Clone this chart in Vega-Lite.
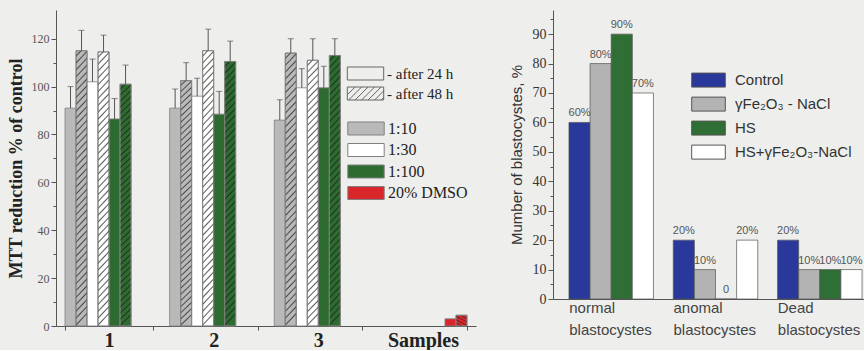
{
  "$schema": "https://vega.github.io/schema/vega-lite/v6.json",
  "background": "#eeeeec",
  "padding": {"left": 7, "top": 10, "right": 0, "bottom": 0},
  "config": {"view": {"stroke": null}, "axis": {"grid": false}},
  "spacing": 33,
  "resolve": {
    "scale": {"fill": "independent", "stroke": "independent", "shape": "independent", "x": "independent", "y": "independent", "xOffset": "independent"},
    "legend": {"fill": "independent", "stroke": "independent", "shape": "independent"}
  },
  "hconcat": [
    {
      "width": 420,
      "height": 316,
      "data": {
        "values": [
          {"sample": "1", "dilution": "1:10", "time": "24 h", "series": "1:10 24 h", "value": 91, "upper": 100},
          {"sample": "1", "dilution": "1:10", "time": "48 h", "series": "1:10 48 h", "value": 115, "upper": 123.5},
          {"sample": "1", "dilution": "1:30", "time": "24 h", "series": "1:30 24 h", "value": 102, "upper": 111.5},
          {"sample": "1", "dilution": "1:30", "time": "48 h", "series": "1:30 48 h", "value": 114.5, "upper": 121.5},
          {"sample": "1", "dilution": "1:100", "time": "24 h", "series": "1:100 24 h", "value": 86.5, "upper": 95},
          {"sample": "1", "dilution": "1:100", "time": "48 h", "series": "1:100 48 h", "value": 101, "upper": 109},
          {"sample": "2", "dilution": "1:10", "time": "24 h", "series": "1:10 24 h", "value": 91, "upper": 99},
          {"sample": "2", "dilution": "1:10", "time": "48 h", "series": "1:10 48 h", "value": 102.5, "upper": 110},
          {"sample": "2", "dilution": "1:30", "time": "24 h", "series": "1:30 24 h", "value": 96, "upper": 103.5},
          {"sample": "2", "dilution": "1:30", "time": "48 h", "series": "1:30 48 h", "value": 115, "upper": 124},
          {"sample": "2", "dilution": "1:100", "time": "24 h", "series": "1:100 24 h", "value": 88.5, "upper": 98},
          {"sample": "2", "dilution": "1:100", "time": "48 h", "series": "1:100 48 h", "value": 110.5, "upper": 119},
          {"sample": "3", "dilution": "1:10", "time": "24 h", "series": "1:10 24 h", "value": 86, "upper": 94.5},
          {"sample": "3", "dilution": "1:10", "time": "48 h", "series": "1:10 48 h", "value": 114, "upper": 120},
          {"sample": "3", "dilution": "1:30", "time": "24 h", "series": "1:30 24 h", "value": 99.5, "upper": 107.5},
          {"sample": "3", "dilution": "1:30", "time": "48 h", "series": "1:30 48 h", "value": 111, "upper": 120},
          {"sample": "3", "dilution": "1:100", "time": "24 h", "series": "1:100 24 h", "value": 99.5, "upper": 108.5},
          {"sample": "3", "dilution": "1:100", "time": "48 h", "series": "1:100 48 h", "value": 113, "upper": 120},
          {"sample": "DMSO", "dilution": "20% DMSO", "time": "24 h", "series": "20% DMSO 24 h", "value": 3, "upper": null},
          {"sample": "DMSO", "dilution": "20% DMSO", "time": "48 h", "series": "20% DMSO 48 h", "value": 4.5, "upper": null}
        ]
      },
      "encoding": {
        "x": {
          "field": "sample", "type": "nominal",
          "scale": {"domain": ["1", "2", "3", "DMSO"], "paddingInner": 0.158, "paddingOuter": 0.086},
          "axis": {
            "title": null, "labelAngle": 0, "tickBand": "extent", "tickSize": 4,
            "labelExpr": "datum.value == 'DMSO' ? 'Samples' : datum.value",
            "labelFont": "Liberation Serif", "labelFontWeight": "bold", "labelFontSize": 20, "labelColor": "#222",
            "labelPadding": 0, "domainColor": "#555", "tickColor": "#555"
          }
        },
        "xOffset": {
          "field": "series", "type": "nominal",
          "scale": {"domain": ["1:10 24 h", "1:10 48 h", "1:30 24 h", "1:30 48 h", "1:100 24 h", "1:100 48 h", "20% DMSO 24 h", "20% DMSO 48 h"], "paddingInner": 0, "paddingOuter": 0}
        }
      },
      "layer": [
        {
          "mark": {"type": "bar", "stroke": "#808080", "strokeWidth": 0.8},
          "encoding": {
            "y": {
              "field": "value", "type": "quantitative",
              "scale": {"domain": [0, 132], "nice": false},
              "axis": {
                "values": [0, 20, 40, 60, 80, 100, 120],
                "title": "MTT reduction % of control",
                "titleFont": "Liberation Serif", "titleFontWeight": "bold", "titleFontSize": 18, "titleColor": "#222", "titlePadding": 6,
                "labelFont": "Liberation Serif", "labelFontSize": 12, "labelColor": "#555", "labelPadding": 2,
                "tickSize": 5, "tickColor": "#555", "domainColor": "#555"
              }
            },
            "fill": {
              "field": "dilution", "type": "nominal",
              "scale": {"domain": ["1:10", "1:30", "1:100", "20% DMSO"], "range": ["#b9b9b9", "#ffffff", "#2e6b30", "#d9262b"]},
              "legend": {
                "title": null, "orient": "none", "direction": "vertical", "legendX": 302, "legendY": 110.5,
                "padding": 0, "symbolType": "M-2.8,-1H2.8V1H-2.8Z", "symbolSize": 169,
                "symbolStrokeColor": "#808080", "symbolStrokeWidth": 1,
                "labelFont": "Liberation Serif", "labelFontSize": 16, "labelColor": "#222", "labelOffset": 14, "rowPadding": 3.5
              }
            }
          }
        },
        {
          "transform": [{"filter": "datum.time === '48 h'"}],
          "mark": {
            "type": "bar", "strokeWidth": 0.8, "stroke": "#808080",
            "fill": {"gradient": "linear", "x1": 0, "y1": 0, "x2": 0.0426, "y2": 1, "stops": [
              {"offset": 0, "color": "rgba(25,25,25,0)"}, {"offset": 0.014, "color": "rgba(25,25,25,0)"}, {"offset": 0.02, "color": "rgba(25,25,25,0.7)"},
              {"offset": 0.025, "color": "rgba(25,25,25,0)"}, {"offset": 0.039, "color": "rgba(25,25,25,0)"}, {"offset": 0.045, "color": "rgba(25,25,25,0.7)"},
              {"offset": 0.05, "color": "rgba(25,25,25,0)"}, {"offset": 0.064, "color": "rgba(25,25,25,0)"}, {"offset": 0.07, "color": "rgba(25,25,25,0.7)"},
              {"offset": 0.075, "color": "rgba(25,25,25,0)"}, {"offset": 0.089, "color": "rgba(25,25,25,0)"}, {"offset": 0.095, "color": "rgba(25,25,25,0.7)"},
              {"offset": 0.1, "color": "rgba(25,25,25,0)"}, {"offset": 0.114, "color": "rgba(25,25,25,0)"}, {"offset": 0.12, "color": "rgba(25,25,25,0.7)"},
              {"offset": 0.125, "color": "rgba(25,25,25,0)"}, {"offset": 0.139, "color": "rgba(25,25,25,0)"}, {"offset": 0.145, "color": "rgba(25,25,25,0.7)"},
              {"offset": 0.15, "color": "rgba(25,25,25,0)"}, {"offset": 0.164, "color": "rgba(25,25,25,0)"}, {"offset": 0.17, "color": "rgba(25,25,25,0.7)"},
              {"offset": 0.175, "color": "rgba(25,25,25,0)"}, {"offset": 0.189, "color": "rgba(25,25,25,0)"}, {"offset": 0.195, "color": "rgba(25,25,25,0.7)"},
              {"offset": 0.2, "color": "rgba(25,25,25,0)"}, {"offset": 0.214, "color": "rgba(25,25,25,0)"}, {"offset": 0.22, "color": "rgba(25,25,25,0.7)"},
              {"offset": 0.225, "color": "rgba(25,25,25,0)"}, {"offset": 0.239, "color": "rgba(25,25,25,0)"}, {"offset": 0.245, "color": "rgba(25,25,25,0.7)"},
              {"offset": 0.25, "color": "rgba(25,25,25,0)"}, {"offset": 0.264, "color": "rgba(25,25,25,0)"}, {"offset": 0.27, "color": "rgba(25,25,25,0.7)"},
              {"offset": 0.275, "color": "rgba(25,25,25,0)"}, {"offset": 0.289, "color": "rgba(25,25,25,0)"}, {"offset": 0.295, "color": "rgba(25,25,25,0.7)"},
              {"offset": 0.3, "color": "rgba(25,25,25,0)"}, {"offset": 0.314, "color": "rgba(25,25,25,0)"}, {"offset": 0.32, "color": "rgba(25,25,25,0.7)"},
              {"offset": 0.325, "color": "rgba(25,25,25,0)"}, {"offset": 0.339, "color": "rgba(25,25,25,0)"}, {"offset": 0.345, "color": "rgba(25,25,25,0.7)"},
              {"offset": 0.35, "color": "rgba(25,25,25,0)"}, {"offset": 0.364, "color": "rgba(25,25,25,0)"}, {"offset": 0.37, "color": "rgba(25,25,25,0.7)"},
              {"offset": 0.375, "color": "rgba(25,25,25,0)"}, {"offset": 0.389, "color": "rgba(25,25,25,0)"}, {"offset": 0.395, "color": "rgba(25,25,25,0.7)"},
              {"offset": 0.4, "color": "rgba(25,25,25,0)"}, {"offset": 0.414, "color": "rgba(25,25,25,0)"}, {"offset": 0.42, "color": "rgba(25,25,25,0.7)"},
              {"offset": 0.425, "color": "rgba(25,25,25,0)"}, {"offset": 0.439, "color": "rgba(25,25,25,0)"}, {"offset": 0.445, "color": "rgba(25,25,25,0.7)"},
              {"offset": 0.45, "color": "rgba(25,25,25,0)"}, {"offset": 0.464, "color": "rgba(25,25,25,0)"}, {"offset": 0.47, "color": "rgba(25,25,25,0.7)"},
              {"offset": 0.475, "color": "rgba(25,25,25,0)"}, {"offset": 0.489, "color": "rgba(25,25,25,0)"}, {"offset": 0.495, "color": "rgba(25,25,25,0.7)"},
              {"offset": 0.5, "color": "rgba(25,25,25,0)"}, {"offset": 0.514, "color": "rgba(25,25,25,0)"}, {"offset": 0.52, "color": "rgba(25,25,25,0.7)"},
              {"offset": 0.525, "color": "rgba(25,25,25,0)"}, {"offset": 0.539, "color": "rgba(25,25,25,0)"}, {"offset": 0.545, "color": "rgba(25,25,25,0.7)"},
              {"offset": 0.55, "color": "rgba(25,25,25,0)"}, {"offset": 0.564, "color": "rgba(25,25,25,0)"}, {"offset": 0.57, "color": "rgba(25,25,25,0.7)"},
              {"offset": 0.575, "color": "rgba(25,25,25,0)"}, {"offset": 0.589, "color": "rgba(25,25,25,0)"}, {"offset": 0.595, "color": "rgba(25,25,25,0.7)"},
              {"offset": 0.6, "color": "rgba(25,25,25,0)"}, {"offset": 0.614, "color": "rgba(25,25,25,0)"}, {"offset": 0.62, "color": "rgba(25,25,25,0.7)"},
              {"offset": 0.625, "color": "rgba(25,25,25,0)"}, {"offset": 0.639, "color": "rgba(25,25,25,0)"}, {"offset": 0.645, "color": "rgba(25,25,25,0.7)"},
              {"offset": 0.65, "color": "rgba(25,25,25,0)"}, {"offset": 0.664, "color": "rgba(25,25,25,0)"}, {"offset": 0.67, "color": "rgba(25,25,25,0.7)"},
              {"offset": 0.675, "color": "rgba(25,25,25,0)"}, {"offset": 0.689, "color": "rgba(25,25,25,0)"}, {"offset": 0.695, "color": "rgba(25,25,25,0.7)"},
              {"offset": 0.7, "color": "rgba(25,25,25,0)"}, {"offset": 0.714, "color": "rgba(25,25,25,0)"}, {"offset": 0.72, "color": "rgba(25,25,25,0.7)"},
              {"offset": 0.725, "color": "rgba(25,25,25,0)"}, {"offset": 0.739, "color": "rgba(25,25,25,0)"}, {"offset": 0.745, "color": "rgba(25,25,25,0.7)"},
              {"offset": 0.75, "color": "rgba(25,25,25,0)"}, {"offset": 0.764, "color": "rgba(25,25,25,0)"}, {"offset": 0.77, "color": "rgba(25,25,25,0.7)"},
              {"offset": 0.775, "color": "rgba(25,25,25,0)"}, {"offset": 0.789, "color": "rgba(25,25,25,0)"}, {"offset": 0.795, "color": "rgba(25,25,25,0.7)"},
              {"offset": 0.8, "color": "rgba(25,25,25,0)"}, {"offset": 0.814, "color": "rgba(25,25,25,0)"}, {"offset": 0.82, "color": "rgba(25,25,25,0.7)"},
              {"offset": 0.825, "color": "rgba(25,25,25,0)"}, {"offset": 0.839, "color": "rgba(25,25,25,0)"}, {"offset": 0.845, "color": "rgba(25,25,25,0.7)"},
              {"offset": 0.85, "color": "rgba(25,25,25,0)"}, {"offset": 0.864, "color": "rgba(25,25,25,0)"}, {"offset": 0.87, "color": "rgba(25,25,25,0.7)"},
              {"offset": 0.875, "color": "rgba(25,25,25,0)"}, {"offset": 0.889, "color": "rgba(25,25,25,0)"}, {"offset": 0.895, "color": "rgba(25,25,25,0.7)"},
              {"offset": 0.9, "color": "rgba(25,25,25,0)"}, {"offset": 0.914, "color": "rgba(25,25,25,0)"}, {"offset": 0.92, "color": "rgba(25,25,25,0.7)"},
              {"offset": 0.925, "color": "rgba(25,25,25,0)"}, {"offset": 0.939, "color": "rgba(25,25,25,0)"}, {"offset": 0.945, "color": "rgba(25,25,25,0.7)"},
              {"offset": 0.95, "color": "rgba(25,25,25,0)"}, {"offset": 0.964, "color": "rgba(25,25,25,0)"}, {"offset": 0.97, "color": "rgba(25,25,25,0.7)"},
              {"offset": 0.975, "color": "rgba(25,25,25,0)"}, {"offset": 0.989, "color": "rgba(25,25,25,0)"}, {"offset": 0.995, "color": "rgba(25,25,25,0.7)"},
              {"offset": 1, "color": "rgba(25,25,25,0)"}
            ]}
          },
          "encoding": {
            "y": {"field": "value", "type": "quantitative", "axis": null}
          }
        },
        {
          "mark": {"type": "point", "size": 0, "filled": false, "color": "#666666", "strokeWidth": 1},
          "encoding": {
            "y": {"field": "value", "type": "quantitative", "axis": null},
            "shape": {
              "field": "time", "type": "nominal",
              "scale": {
                "domain": ["24 h", "48 h"],
                "range": [
                  "M-2.8,-1H2.8V1H-2.8Z",
                  "M-2.8,-1H2.8V1H-2.8Z M-2.8,0.2L-1.6,-1 M-2.6,1L-0.6,-1 M-1.6,1L0.4,-1 M-0.6,1L1.4,-1 M0.4,1L2.4,-1 M1.4,1L2.8,-0.4 M2.4,1L2.8,0.6"
                ]
              },
              "legend": {
                "title": null, "orient": "none", "direction": "vertical", "legendX": 302, "legendY": 56,
                "padding": 0, "symbolSize": 169, "symbolOpacity": 1,
                "symbolFillColor": "#ffffff", "symbolStrokeColor": "#666666", "symbolStrokeWidth": 1,
                "labelExpr": "'- after ' + datum.label",
                "labelFont": "Liberation Serif", "labelFontSize": 15, "labelColor": "#222", "labelOffset": 14, "rowPadding": 3
              }
            }
          }
        },
        {
          "transform": [{"filter": "datum.upper != null"}],
          "mark": {"type": "rule", "color": "#555555", "strokeWidth": 1},
          "encoding": {
            "y": {"field": "value", "type": "quantitative", "axis": null},
            "y2": {"field": "upper"}
          }
        },
        {
          "transform": [{"filter": "datum.upper != null"}],
          "mark": {"type": "tick", "color": "#555555", "thickness": 1, "size": 6},
          "encoding": {
            "y": {
              "field": "upper", "type": "quantitative",
              "axis": {"orient": "left", "values": [10, 30, 50, 70, 90, 110], "labels": false, "domain": false, "tickSize": 3, "tickColor": "#555", "title": null}
            }
          }
        }
      ],
      "resolve": {"axis": {"y": "independent"}}
    },
    {
      "width": 311,
      "height": 289,
      "data": {
        "values": [
          {"group": "normal blastocystes", "treatment": "Control", "pct": 60, "label": "60%"},
          {"group": "normal blastocystes", "treatment": "γFe₂O₃ - NaCl", "pct": 80, "label": "80%"},
          {"group": "normal blastocystes", "treatment": "HS", "pct": 90, "label": "90%"},
          {"group": "normal blastocystes", "treatment": "HS+γFe₂O₃-NaCl", "pct": 70, "label": "70%"},
          {"group": "anomal blastocystes", "treatment": "Control", "pct": 20, "label": "20%"},
          {"group": "anomal blastocystes", "treatment": "γFe₂O₃ - NaCl", "pct": 10, "label": "10%"},
          {"group": "anomal blastocystes", "treatment": "HS", "pct": 0, "label": "0"},
          {"group": "anomal blastocystes", "treatment": "HS+γFe₂O₃-NaCl", "pct": 20, "label": "20%"},
          {"group": "Dead blastocystes", "treatment": "Control", "pct": 20, "label": "20%"},
          {"group": "Dead blastocystes", "treatment": "γFe₂O₃ - NaCl", "pct": 10, "label": "10%"},
          {"group": "Dead blastocystes", "treatment": "HS", "pct": 10, "label": "10%"},
          {"group": "Dead blastocystes", "treatment": "HS+γFe₂O₃-NaCl", "pct": 10, "label": "10%"}
        ]
      },
      "encoding": {
        "x": {
          "field": "group", "type": "nominal",
          "scale": {"domain": ["normal blastocystes", "anomal blastocystes", "Dead blastocystes"], "paddingInner": 0.19, "paddingOuter": 0.086, "align": 0.89},
          "axis": {
            "title": null, "labelAngle": 0, "labelAlign": "left", "labelOffset": -42, "ticks": false,
            "labelExpr": "split(datum.label, ' ')",
            "labelFont": "Liberation Sans", "labelFontSize": 15, "labelColor": "#444", "labelLineHeight": 22, "labelPadding": 1,
            "domainColor": "#555"
          }
        },
        "xOffset": {
          "field": "treatment", "type": "nominal",
          "scale": {"domain": ["Control", "γFe₂O₃ - NaCl", "HS", "HS+γFe₂O₃-NaCl"], "paddingInner": 0, "paddingOuter": 0}
        }
      },
      "layer": [
        {
          "mark": {"type": "bar", "stroke": "#555555", "strokeWidth": 0.7},
          "encoding": {
            "y": {
              "field": "pct", "type": "quantitative",
              "scale": {"domain": [0, 98.2], "nice": false},
              "axis": {
                "values": [0, 10, 20, 30, 40, 50, 60, 70, 80, 90],
                "title": "Mumber of blastocystes, %",
                "titleFont": "Liberation Sans", "titleFontWeight": "normal", "titleFontSize": 15, "titleColor": "#333", "titlePadding": 8,
                "labelFont": "Liberation Serif", "labelFontSize": 14, "labelColor": "#333", "labelPadding": 2,
                "tickSize": 5, "tickColor": "#555", "domainColor": "#555"
              }
            },
            "fill": {
              "field": "treatment", "type": "nominal",
              "scale": {"domain": ["Control", "γFe₂O₃ - NaCl", "HS", "HS+γFe₂O₃-NaCl"], "range": ["#2a389c", "#b3b3b3", "#2f6e35", "#ffffff"]},
              "legend": {
                "title": null, "orient": "none", "direction": "vertical", "legendX": 148, "legendY": 62.6,
                "padding": 0, "symbolType": "M-2.4,-1H2.4V1H-2.4Z", "symbolSize": 196,
                "symbolStrokeColor": "#555555", "symbolStrokeWidth": 1,
                "labelFont": "Liberation Sans", "labelFontSize": 15, "labelColor": "#333", "labelOffset": 19, "rowPadding": 5
              }
            }
          }
        },
        {
          "mark": {"type": "text", "dy": -9, "font": "Liberation Sans Narrow, Liberation Sans", "fontSize": 11, "color": "#555555"},
          "encoding": {
            "y": {
              "field": "pct", "type": "quantitative",
              "axis": {"orient": "left", "values": [5, 15, 25, 35, 45, 55, 65, 75, 85, 95], "labels": false, "domain": false, "tickSize": 3, "tickColor": "#555", "title": null}
            },
            "text": {"field": "label"}
          }
        }
      ],
      "resolve": {"axis": {"y": "independent"}}
    }
  ]
}
